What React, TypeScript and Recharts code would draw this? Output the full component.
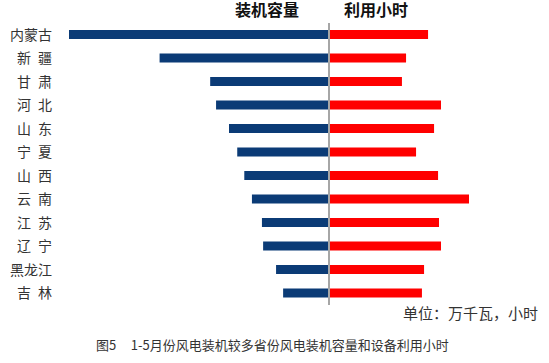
import { BarChart, Bar, XAxis, YAxis, ReferenceLine } from 'recharts'

const provinces = ['内蒙古', '新疆', '甘肃', '河北', '山东', '宁夏', '山西', '云南', '江苏', '辽宁', '黑龙江', '吉林']
// 装机容量（万千瓦）
const capacity = [2210, 1440, 1010, 960, 850, 780, 720, 655, 570, 560, 450, 390]
// 利用小时
const hours = [842, 655, 620, 952, 893, 740, 927, 1190, 935, 952, 808, 790]

const FONT = '"Noto Sans CJK SC", "Noto Sans", sans-serif'

const chartData = provinces.map((name, i) => ({
  name,
  cap: -capacity[i],
  hours: hours[i]
}))

const formatName = (name: string) => (name.length === 2 ? name[0] + '\u2002' + name[1] : name)

export default function App() {
  return (
    <div
      style={{
        position: 'absolute',
        left: 0,
        top: 0,
        width: 549,
        height: 363,
        background: '#fff',
        fontFamily: FONT
      }}
    >
      <div style={{ position: 'absolute', left: 0, top: 20 }}>
        <BarChart
          width={549}
          height={290}
          data={chartData}
          layout="vertical"
          stackOffset="sign"
          margin={{ top: 3, right: 10, bottom: 5, left: 0 }}
        >
          <XAxis type="number" hide domain={[-2295, 1785]} allowDataOverflow />
          <YAxis
            type="category"
            dataKey="name"
            width={59}
            axisLine={false}
            tickLine={false}
            tickSize={0}
            tickMargin={7}
            tickFormatter={formatName}
            tick={{ fill: '#333', fontSize: 14, fontFamily: FONT }}
            interval={0}
          />
          <Bar dataKey="cap" stackId="a" fill="#0b3b76" barSize={9} isAnimationActive={false} />
          <Bar dataKey="hours" stackId="a" fill="#ff0000" barSize={9} isAnimationActive={false} />
          <ReferenceLine x={0} stroke="#a6a6a6" strokeWidth={2} />
        </BarChart>
      </div>

      <div style={{ position: 'absolute', left: 235, top: 1, fontSize: 16, lineHeight: '17px', fontWeight: 'bold', color: '#111' }}>
        装机容量
      </div>
      <div style={{ position: 'absolute', left: 344, top: 1, fontSize: 16, lineHeight: '17px', fontWeight: 'bold', color: '#111' }}>
        利用小时
      </div>
      <div style={{ position: 'absolute', left: 403, top: 305, fontSize: 15, lineHeight: '15px', color: '#333' }}>
        单位：万千瓦，小时
      </div>
      <div style={{ position: 'absolute', left: 96, top: 338, fontSize: 13, lineHeight: '13px', color: '#333', whiteSpace: 'pre' }}>
        图5     1-5月份风电装机较多省份风电装机容量和设备利用小时
      </div>
    </div>
  )
}
